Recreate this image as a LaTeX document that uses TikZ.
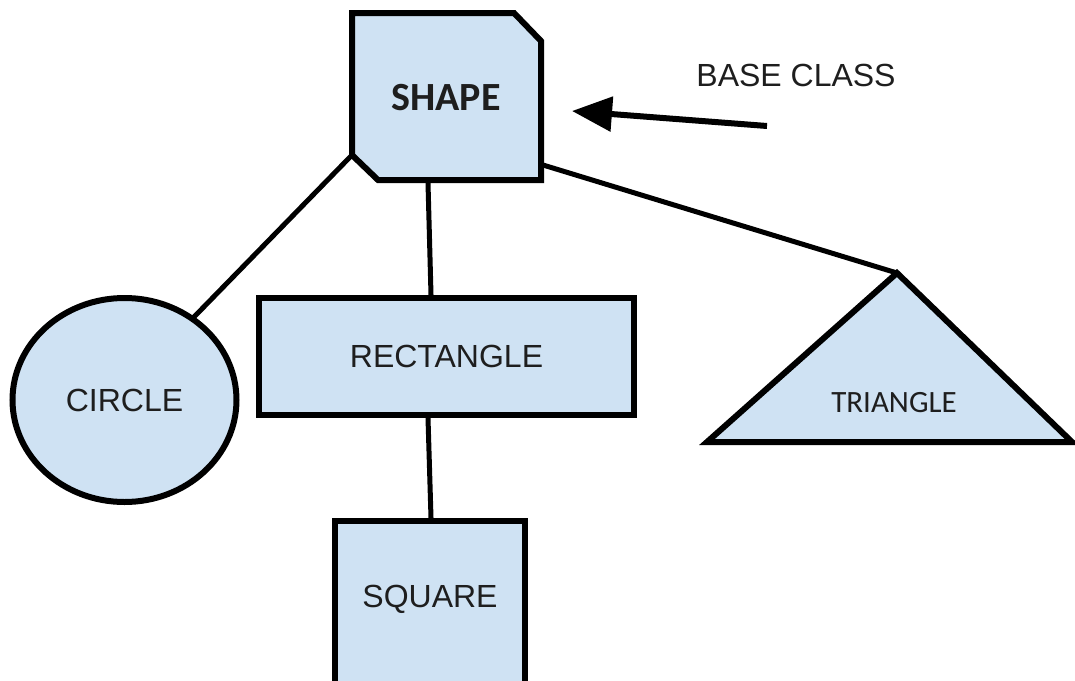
\documentclass[tikz,border=0pt]{standalone}
\usepackage{fontspec}
\setmainfont{Liberation Sans}
\newfontfamily\calibri{Carlito}
\usetikzlibrary{shapes.geometric,arrows.meta}
\definecolor{boxfill}{HTML}{CFE2F3}
\definecolor{txt}{HTML}{1E1E1E}
\tikzset{
  box/.style={draw=black,line width=6pt,fill=boxfill,text=txt,inner sep=0pt},
  conn/.style={draw=black,line width=5pt},
  lbl/.style={font=\fontsize{32}{36}\selectfont,text=txt}
}
\begin{document}
\begin{tikzpicture}[x=1pt,y=-1pt]
\useasboundingbox (0,0) rectangle (1075,680);
\begin{scope}
\clip (0,0) rectangle (1075,680);
% SHAPE (chamfered box)
\coordinate (snw) at (352,13);
\coordinate (sne1) at (514,13);
\coordinate (sne2) at (541,41);
\coordinate (sse) at (541,180);
\coordinate (ssw1) at (378,180);
\coordinate (ssw2) at (352,155);
\draw[box,line join=miter] (snw) -- (sne1) -- (sne2) -- (sse) -- (ssw1) -- (ssw2) -- cycle;
\node[text=txt,font=\calibri\bfseries\fontsize{40}{42}\selectfont,
  minimum width=188pt,minimum height=167pt] (shape) at (446,98) {SHAPE};
% CIRCLE
\node[box,ellipse,minimum width=224pt,minimum height=204pt,lbl] (circle) at (124.5,400) {CIRCLE};
% RECTANGLE
\node[box,rectangle,minimum width=375pt,minimum height=117pt,lbl] (rect) at (446.5,356.5) {RECTANGLE};
% SQUARE
\node[box,rectangle,minimum width=190pt,minimum height=190pt,anchor=north,lbl] (square) at (430,518) {};
\node[lbl] (sqlabel) at (430,599) {SQUARE};
% TRIANGLE
\coordinate (tapex) at (897,273);
\coordinate (tleft) at (707,442);
\coordinate (tright) at (1072,442);
\draw[line width=6pt,fill=boxfill,line join=miter] (tapex) -- (tleft) -- (tright) -- cycle;
\node[text=txt,font=\calibri\fontsize{31}{33}\selectfont] (tri) at (894,403) {TRIANGLE};
% connectors
\coordinate (cTop) at (193,318);
\draw[conn] (ssw2) -- (cTop);
\draw[conn] (428,183) -- (rect.north -| 431,0);
\draw[conn] (rect.south -| 428,0) -- (square.north -| 431,0);
\coordinate (se) at (543,165);
\draw[conn] (se) -- (tapex);
% base class
\node[lbl] (base) at (796,75) {BASE CLASS};
\coordinate (atail) at (767,126);
\coordinate (ahead) at (572,111);
\draw[line width=6pt,-{Triangle[length=40pt,width=34pt]}] (atail) -- (ahead);
\end{scope}
\end{tikzpicture}
\end{document}
